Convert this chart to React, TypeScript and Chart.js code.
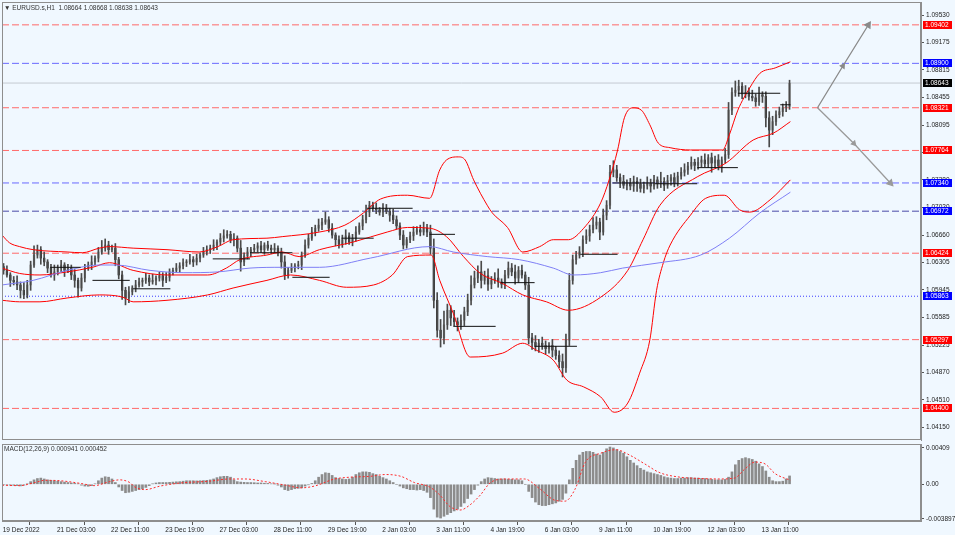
import { useEffect, useRef } from 'react';
import { Chart, registerables } from 'chart.js';

Chart.register(...registerables);

const PIP = 0.0001;
const FONT = { family: '"Liberation Sans", Arial, sans-serif', size: 6.5 };

// EURUSD 2-hour candles, x is the H1 bar index (bar 0 = first bar on 19 Dec 2022)
const firstOpen = 1.0625;
const closes = [
  1.0620, 1.0614, 1.0607, 1.0605, 1.0601, 1.0594, 1.0588, 1.0601, 1.0627, 1.0640,
  1.0647, 1.0636, 1.0631, 1.0623, 1.0614, 1.0618, 1.0623, 1.0627, 1.0620, 1.0623,
  1.0614, 1.0607, 1.0597, 1.0610, 1.0623, 1.0627, 1.0631, 1.0636, 1.0644, 1.0649,
  1.0653, 1.0647, 1.0649, 1.0634, 1.0614, 1.0594, 1.0584, 1.0592, 1.0597, 1.0601,
  1.0605, 1.0607, 1.0610, 1.0605, 1.0607, 1.0610, 1.0613, 1.0607, 1.0611, 1.0618,
  1.0620, 1.0623, 1.0626, 1.0630, 1.0631, 1.0634, 1.0631, 1.0636, 1.0640, 1.0644,
  1.0647, 1.0649, 1.0653, 1.0657, 1.0662, 1.0665, 1.0667, 1.0660, 1.0662, 1.0649,
  1.0631, 1.0639, 1.0644, 1.0647, 1.0649, 1.0652, 1.0647, 1.0653, 1.0649, 1.0647,
  1.0649, 1.0644, 1.0631, 1.0614, 1.0620, 1.0623, 1.0626, 1.0627, 1.0640, 1.0653,
  1.0662, 1.0670, 1.0675, 1.0679, 1.0683, 1.0686, 1.0675, 1.0666, 1.0660, 1.0654,
  1.0660, 1.0665, 1.0657, 1.0662, 1.0670, 1.0678, 1.0686, 1.0696, 1.0705, 1.0701,
  1.0699, 1.0696, 1.0701, 1.0697, 1.0692, 1.0686, 1.0678, 1.0666, 1.0653, 1.0660,
  1.0665, 1.0670, 1.0673, 1.0670, 1.0675, 1.0670, 1.0649, 1.0581, 1.0542, 1.0532,
  1.0549, 1.0568, 1.0558, 1.0553, 1.0549, 1.0555, 1.0566, 1.0581, 1.0601, 1.0610,
  1.0618, 1.0607, 1.0613, 1.0602, 1.0607, 1.0610, 1.0605, 1.0602, 1.0614, 1.0623,
  1.0618, 1.0610, 1.0620, 1.0614, 1.0601, 1.0532, 1.0526, 1.0521, 1.0525, 1.0522,
  1.0518, 1.0522, 1.0516, 1.0509, 1.0501, 1.0493, 1.0529, 1.0607, 1.0634, 1.0640,
  1.0644, 1.0660, 1.0665, 1.0673, 1.0679, 1.0683, 1.0670, 1.0692, 1.0705, 1.0748,
  1.0751, 1.0741, 1.0736, 1.0731, 1.0734, 1.0730, 1.0736, 1.0733, 1.0727, 1.0731,
  1.0734, 1.0730, 1.0738, 1.0733, 1.0736, 1.0731, 1.0737, 1.0741, 1.0734, 1.0743,
  1.0748, 1.0751, 1.0756, 1.0761, 1.0757, 1.0761, 1.0764, 1.0759, 1.0767, 1.0760,
  1.0764, 1.0756, 1.0764, 1.0771, 1.0829, 1.0852, 1.0855, 1.0860, 1.0850, 1.0852,
  1.0847, 1.0845, 1.0840, 1.0849, 1.0847, 1.0819, 1.0803, 1.0814, 1.0823, 1.0827,
  1.0832, 1.0834, 1.0864,
];
// wick lengths in pips above / below the body
const wickUp = [
  4, 6, 3, 5, 8, 4, 10, 6, 5, 12, 6, 4, 8, 3, 5, 9, 4, 6, 3, 5,
  4, 7, 3, 6, 5, 4, 8, 3, 6, 10, 8, 5, 4, 6, 3, 5, 4, 7, 3, 6,
  5, 3, 6, 4, 8, 3, 5, 4, 6, 4, 3, 6, 4, 5, 3, 7, 4, 5, 3, 6,
  5, 4, 7, 3, 6, 8, 5, 4, 6, 3, 10, 4, 6, 3, 5, 4, 6, 3, 5, 4,
  6, 3, 5, 8, 4, 6, 3, 5, 4, 7, 5, 6, 4, 8, 5, 10, 4, 6, 3, 5,
  6, 8, 4, 5, 7, 4, 6, 9, 5, 4, 7, 3, 6, 5, 4, 8, 5, 4, 6, 3,
  5, 7, 4, 6, 8, 5, 9, 12, 10, 14, 18, 8, 6, 10, 5, 7, 6, 8, 12, 9,
  8, 14, 6, 9, 5, 7, 12, 4, 6, 8, 6, 9, 5, 7, 4, 10, 6, 9, 5, 8,
  6, 4, 8, 5, 6, 10, 8, 9, 6, 5, 7, 5, 8, 6, 10, 7, 5, 8, 6, 9,
  12, 6, 5, 8, 4, 6, 7, 5, 6, 4, 8, 5, 6, 4, 12, 5, 7, 4, 6, 5,
  6, 8, 5, 7, 4, 6, 5, 8, 4, 6, 5, 7, 4, 8, 10, 6, 12, 8, 5, 9,
  6, 8, 5, 10, 4, 6, 8, 7, 5, 6, 5, 6, 4,
];
const wickDown = [
  5, 3, 8, 4, 6, 10, 5, 4, 7, 3, 4, 8, 5, 6, 3, 7, 4, 5, 8, 3,
  6, 9, 12, 4, 5, 3, 6, 4, 5, 3, 4, 6, 3, 8, 5, 12, 9, 6, 4, 5,
  3, 6, 4, 5, 3, 6, 4, 8, 3, 5, 4, 3, 6, 4, 5, 3, 6, 4, 5, 3,
  4, 5, 3, 6, 4, 5, 3, 4, 8, 5, 12, 5, 4, 6, 3, 5, 4, 6, 3, 5,
  4, 5, 8, 6, 4, 3, 5, 4, 6, 3, 4, 3, 5, 4, 6, 3, 5, 4, 8, 5,
  4, 6, 3, 5, 4, 3, 5, 4, 6, 4, 5, 4, 6, 3, 8, 5, 4, 6, 5, 4,
  4, 6, 3, 5, 4, 6, 8, 10, 9, 12, 8, 6, 10, 5, 8, 6, 7, 5, 6, 4,
  6, 10, 5, 8, 6, 4, 7, 5, 6, 4, 5, 8, 6, 4, 6, 8, 9, 6, 8, 5,
  7, 6, 9, 5, 8, 12, 6, 7, 5, 6, 4, 6, 5, 7, 4, 5, 10, 4, 6, 5,
  6, 5, 8, 4, 6, 5, 7, 10, 5, 6, 5, 8, 4, 6, 5, 7, 4, 6, 5, 4,
  4, 5, 6, 4, 7, 5, 6, 4, 5, 12, 6, 5, 8, 4, 5, 6, 5, 8, 6, 5,
  5, 4, 6, 5, 8, 12, 22, 6, 5, 4, 6, 5, 4,
];

// Bollinger bands and moving average, [bar index, price]
const bbUpper = [
  [-0.4, 1.0666], [4, 1.0656], [10, 1.0651], [18, 1.0647], [38, 1.0644], [47, 1.0643],
  [57, 1.0649], [63, 1.0651], [77, 1.0649], [97, 1.0647], [116, 1.0644], [127, 1.0651],
  [136, 1.066], [156, 1.0662], [165, 1.0664], [187, 1.067], [202, 1.0679], [213, 1.0695],
  [223, 1.0713], [239, 1.0718], [252, 1.0714], [258, 1.0751], [262, 1.0764], [269, 1.0768],
  [273, 1.0764], [278, 1.0738], [286, 1.0705], [289, 1.0695], [298, 1.0676], [307, 1.0644],
  [317, 1.0651], [325, 1.066], [334, 1.066], [343, 1.0675], [353, 1.0708], [358, 1.0738],
  [363, 1.0777], [367, 1.0819], [372, 1.0832], [377, 1.0829], [382, 1.081], [387, 1.0786],
  [394, 1.078], [406, 1.0777], [425, 1.0777], [429, 1.0797], [434, 1.0829], [441, 1.0858],
  [447, 1.0877], [456, 1.0884], [465, 1.0892],
];
const bbMiddle = [
  [-0.4, 1.0623], [10, 1.0616], [22, 1.0614], [38, 1.0618], [53, 1.0624], [63, 1.063],
  [77, 1.062], [97, 1.0614], [121, 1.0614], [132, 1.0623], [140, 1.0634], [156, 1.064],
  [165, 1.0644], [175, 1.0638], [187, 1.0647], [207, 1.0657], [227, 1.067], [239, 1.0676],
  [252, 1.0675], [262, 1.0664], [272, 1.0638], [282, 1.0616], [295, 1.0603], [307, 1.0588],
  [321, 1.0579], [334, 1.0568], [353, 1.0585], [369, 1.062], [378, 1.066], [388, 1.0705],
  [410, 1.0742], [427, 1.076], [443, 1.079], [455, 1.0799], [465, 1.0814],
];
const bbLower = [
  [-0.4, 1.0581], [10, 1.0579], [22, 1.0579], [38, 1.0584], [57, 1.0588], [71, 1.0585],
  [77, 1.0579], [97, 1.0581], [121, 1.0588], [136, 1.0597], [156, 1.0607], [170, 1.0614],
  [187, 1.0607], [203, 1.0598], [219, 1.0601], [230, 1.0614], [239, 1.0638], [253, 1.064],
  [258, 1.0607], [266, 1.0564], [276, 1.0507], [295, 1.0512], [307, 1.0525], [315, 1.0516],
  [325, 1.0503], [333, 1.0477], [343, 1.0468], [353, 1.0455], [361, 1.0435], [369, 1.0447],
  [376, 1.0486], [382, 1.0529], [386, 1.0594], [390, 1.063], [394, 1.0653], [406, 1.0692],
  [415, 1.0714], [426, 1.0718], [435, 1.0699], [441, 1.0696], [453, 1.0712], [465, 1.0738],
];
const maLine = [
  [-0.4, 1.0601], [18, 1.0607], [38, 1.062], [57, 1.0627], [67, 1.0627], [87, 1.062],
  [107, 1.0617], [127, 1.0618], [146, 1.0623], [165, 1.0624], [187, 1.0624], [217, 1.0636],
  [252, 1.0651], [266, 1.0644], [286, 1.0638], [305, 1.0634], [325, 1.0623], [337, 1.0614],
  [353, 1.0617], [366, 1.0623], [388, 1.063], [412, 1.064], [429, 1.0662], [447, 1.0695],
  [465, 1.0722],
];

// short black close marks, [from bar, to bar, price]
const closeMarks = [
  [28, 46, 1.0624], [53, 75, 1.0607], [77, 99, 1.0596], [124, 146, 1.0635], [146, 171, 1.0643],
  [171, 193, 1.0611], [200, 219, 1.0662], [215, 242, 1.0701], [252, 267, 1.0667],
  [266, 291, 1.0547], [294, 314, 1.0604], [314, 339, 1.0521], [341, 363, 1.0641],
  [360, 385, 1.0734], [385, 410, 1.0733], [410, 434, 1.0754], [434, 459, 1.0851],
  [459, 465, 1.0836],
];

// horizontal levels
const levelPrices = [1.09402, 1.089, 1.08643, 1.08321, 1.07764, 1.0734, 1.06972, 1.06424, 1.05863, 1.05297, 1.044];
const levelKinds = ['red', 'blue', 'last', 'red', 'red', 'blue', 'deep', 'red', 'dotted', 'red', 'red'];

// projection arrows, [bar index, price]
const arrowUp = [[481, 1.08321], [496, 1.08865], [511, 1.094]];
const arrowDown = [[481, 1.08321], [502.5, 1.07855], [524, 1.0734]];

const priceTicks = [
  1.0953, 1.09175, 1.08815, 1.08455, 1.08095, 1.07735, 1.0738, 1.0702,
  1.0666, 1.06305, 1.05945, 1.05585, 1.05225, 1.0487, 1.0451, 1.0415,
];

// MACD(12,26,9) histogram per 2-hour candle, and signal line [bar index, value]
const macdHist = [
  -0.00005, -0.00008, -0.0001, -0.00012, -0.00015, -0.00018, -0.0001, 0.00005, 0.0003, 0.0005,
  0.00065, 0.0007, 0.0006, 0.0005, 0.00045, 0.0004, 0.00035, 0.0003, 0.00025, 0.0002,
  0.00015, 0.0001, 0.00005, -0.0001, -0.0002, -0.00022, -0.00015, 0.00005, 0.0004, 0.0007,
  0.00085, 0.0008, 0.0006, 0.0002, -0.0003, -0.0007, -0.00095, -0.0009, -0.0008, -0.0007,
  -0.0006, -0.0005, -0.00035, -0.00015, 0.00005, 0.00015, 0.0002, 0.0002, 0.0002, 0.00022,
  0.00025, 0.00028, 0.0003, 0.00035, 0.0004, 0.0004, 0.0004, 0.00038, 0.0004, 0.00042,
  0.00045, 0.0005, 0.0006, 0.00075, 0.00085, 0.0009, 0.0009, 0.0008, 0.0005, 0.0003,
  0.00025, 0.00022, 0.0002, 0.0002, 0.00018, 0.00015, 0.00015, 0.00012, 0.0001, 0.00005,
  0.00003, -0.0001, -0.0003, -0.0006, -0.0007, -0.0006, -0.0005, -0.00045, -0.0004, -0.0002,
  -0.00005, 0.0001, 0.0004, 0.0008, 0.0011, 0.0013, 0.00125, 0.001, 0.00075, 0.00065,
  0.0006, 0.00055, 0.0006, 0.0008, 0.0011, 0.0013, 0.0014, 0.0014, 0.00135, 0.0012,
  0.0011, 0.0009, 0.00075, 0.0006, 0.0004, 0.0002, 0, -0.0002, -0.0004, -0.0005,
  -0.0006, -0.0006, -0.00065, -0.0006, -0.0007, -0.0009, -0.0015, -0.0028, -0.0037, -0.0038,
  -0.0036, -0.0034, -0.0032, -0.003, -0.0028, -0.0025, -0.0021, -0.0016, -0.0011, -0.0006,
  -0.0001, 0.0003, 0.0006, 0.00075, 0.0007, 0.00065, 0.0006, 0.0006, 0.0006, 0.00055,
  0.00055, 0.0005, 0.0005, 0.0004, 0, -0.0008, -0.0015, -0.002, -0.0023, -0.0024,
  -0.0024, -0.0023, -0.0022, -0.0021, -0.0019, -0.0017, -0.001, 0.0005, 0.0018, 0.0027,
  0.0033, 0.0036, 0.0037, 0.0037, 0.0036, 0.0034, 0.0033, 0.0036, 0.004, 0.0042,
  0.0041, 0.0039, 0.0037, 0.0035, 0.0031, 0.0027, 0.0024, 0.0021, 0.0018, 0.0016,
  0.0014, 0.0013, 0.0012, 0.0011, 0.001, 0.00085, 0.00075, 0.0007, 0.00065, 0.00065,
  0.0007, 0.0007, 0.00075, 0.00075, 0.0007, 0.0007, 0.00065, 0.00065, 0.0006, 0.00055,
  0.0005, 0.0005, 0.0005, 0.00055, 0.0008, 0.0014, 0.0022, 0.0027, 0.0029, 0.003,
  0.0029, 0.0028, 0.0026, 0.0023, 0.002, 0.0015, 0.0008, 0.0004, 0.0003, 0.0003,
  0.00035, 0.0006, 0.000941,
];
const macdSignal = [
  [-0.4, -0.0001], [10, -0.00015], [19, 0.0002], [25, 0.00045], [34, 0.0004], [46, 0.0001],
  [54, -0.00015], [63, 0.0003], [69, 0.0005], [75, 0.0002], [78, -0.0003], [84, -0.0006],
  [93, -0.0002], [105, 0.00015], [122, 0.00035], [134, 0.0006], [143, 0.0006], [155, 0.0003],
  [167, -0.0001], [176, -0.0004], [184, -0.0002], [196, 0.0006], [205, 0.0008], [217, 0.0009],
  [226, 0.0011], [235, 0.0009], [243, 0.0002], [252, -0.0003], [258, -0.0012], [264, -0.0025],
  [270, -0.0029], [276, -0.0023], [282, -0.0012], [288, 0.0002], [297, 0.0006], [308, 0.0006],
  [317, -0.0005], [326, -0.0018], [332, -0.0019], [338, -0.0005], [344, 0.0025], [353, 0.0035],
  [362, 0.0039], [370, 0.0033], [379, 0.0023], [388, 0.0013], [400, 0.0008], [412, 0.00065],
  [423, 0.0006], [432, 0.0007], [438, 0.0017], [444, 0.0025], [450, 0.0023], [456, 0.0012],
  [465, 0.000452],
];
const macdTicks = [0.00409, 0, -0.003897];
const macdTickLabels = ['0.00409', '0.00', '-0.003897'];

const timeLabels = [
  '19 Dec 2022', '21 Dec 03:00', '22 Dec 11:00', '23 Dec 19:00', '27 Dec 03:00',
  '28 Dec 11:00', '29 Dec 19:00', '2 Jan 03:00', '3 Jan 11:00', '4 Jan 19:00',
  '6 Jan 03:00', '9 Jan 11:00', '10 Jan 19:00', '12 Jan 03:00', '13 Jan 11:00',
];
const barsPerLabel = 32;

const X_MIN = -0.41;
const X_MAX = 542.1;
const BG = '#f0f8ff';

const levelStyle: Record<string, { line: string; dash: number[]; tag: string }> = {
  red: { line: '#ff6a6a', dash: [7, 3], tag: '#ff0000' },
  blue: { line: '#6a6aff', dash: [7, 3], tag: '#0000ff' },
  deep: { line: '#4a4aa8', dash: [7, 3], tag: '#0000ff' },
  dotted: { line: '#3c3cff', dash: [1, 2], tag: '#0000ff' },
  last: { line: '#c4cad2', dash: [], tag: '#000000' },
};

const toPoints = (pts: number[][]) => pts.map(([x, y]) => ({ x, y }));

const lineSet = (pts: number[][], color: string, extra: any = {}) => ({
  type: 'line',
  data: toPoints(pts),
  borderColor: color,
  borderWidth: 1,
  pointRadius: 0,
  fill: false,
  ...extra,
});

// keep the plot areas flush with the canvas edges (no label overhang padding)
const noOverhang = (s: any) => {
  s.paddingTop = 0;
  s.paddingBottom = 0;
  s.paddingLeft = 0;
  s.paddingRight = 0;
};

// outline of each plot area
const frame = {
  id: 'frame',
  afterDraw(chart: any) {
    const { ctx, chartArea: a } = chart;
    ctx.save();
    ctx.strokeStyle = '#8e8e8e';
    ctx.lineWidth = 1;
    ctx.strokeRect(Math.round(a.left) + 0.5, Math.round(a.top) + 0.5, a.width - 1, a.height - 1);
    ctx.restore();
  },
};

// coloured price tags on the right axis
const levelTags = {
  id: 'levelTags',
  afterDraw(chart: any) {
    const { ctx, chartArea, scales } = chart;
    ctx.save();
    ctx.font = `${FONT.size}px ${FONT.family}`;
    ctx.textBaseline = 'middle';
    levelPrices.forEach((p, n) => {
      const y = Math.round(scales.y.getPixelForValue(p));
      ctx.fillStyle = levelStyle[levelKinds[n]].tag;
      ctx.fillRect(chartArea.right + 2, y - 4, 29, 8);
      ctx.fillStyle = '#ffffff';
      ctx.fillText(p.toFixed(5), chartArea.right + 4, y + 0.5);
    });
    ctx.restore();
  },
};

function PriceChart() {
  const ref = useRef<HTMLCanvasElement>(null);

  useEffect(() => {
    if (!ref.current) return;
    const opens = closes.map((c, k) => (k === 0 ? firstOpen : closes[k - 1]));
    const candleX = closes.map((_, k) => 2 * k + 0.5);
    const highs = closes.map((c, k) => Math.max(opens[k], c) + wickUp[k] * PIP);
    const lows = closes.map((c, k) => Math.min(opens[k], c) - wickDown[k] * PIP);

    const levels = levelPrices.map((p, n) => {
      const s = levelStyle[levelKinds[n]];
      return lineSet([[X_MIN, p], [X_MAX, p]], s.line, { borderDash: s.dash, order: 10 });
    });
    const marks = closeMarks.map(([a, b, p]) => lineSet([[a, p], [b, p]], '#111111', { order: 2 }));

    const arrow = (pts: number[][], color: string, angle: number) =>
      lineSet(pts, color, {
        borderWidth: 1.3,
        pointStyle: 'triangle',
        pointRadius: [0, 2.5, 3.5],
        pointRotation: angle,
        pointBackgroundColor: color,
        pointBorderColor: color,
        order: 1,
      });

    const chart = new Chart(ref.current, {
      type: 'bar',
      data: {
        datasets: [
          ...levels,
          {
            type: 'bar',
            data: closes.map((_, k) => ({ x: candleX[k], y: [lows[k], highs[k]] })),
            backgroundColor: '#4a4a4a',
            barThickness: 1,
            grouped: false,
            order: 4,
          },
          {
            type: 'bar',
            data: closes.map((c, k) => ({ x: candleX[k], y: [Math.min(opens[k], c), Math.max(opens[k], c)] })),
            backgroundColor: closes.map((c, k) => (c >= opens[k] ? '#8e8e8e' : '#262626')),
            barThickness: 1.6,
            minBarLength: 1,
            grouped: false,
            order: 4,
          },
          lineSet(maLine, '#7f7ff5', { cubicInterpolationMode: 'monotone', order: 3 }),
          lineSet(bbUpper, '#ff0000', { cubicInterpolationMode: 'monotone', order: 3 }),
          lineSet(bbMiddle, '#ff0000', { cubicInterpolationMode: 'monotone', order: 3 }),
          lineSet(bbLower, '#ff0000', { cubicInterpolationMode: 'monotone', order: 3 }),
          ...marks,
          arrow(arrowUp, '#8a8a8a', 33),
          arrow(arrowDown, '#9a9a9a', 137),
        ] as any,
      },
      options: {
        responsive: false,
        animation: false,
        events: [],
        layout: { autoPadding: false, padding: { left: 2, top: 2, right: 0, bottom: 2 } },
        plugins: { legend: { display: false }, tooltip: { enabled: false } },
        scales: {
          x: { type: 'linear', min: X_MIN, max: X_MAX, offset: false, display: false },
          y: {
            position: 'right',
            min: 1.03988,
            max: 1.097,
            afterFit: (s: any) => { s.width = 34; noOverhang(s); },
            afterBuildTicks: (s: any) => { s.ticks = priceTicks.map((v) => ({ value: v })); },
            ticks: {
              autoSkip: false,
              padding: 2,
              color: '#222',
              font: FONT,
              callback: (v: any) => Number(v).toFixed(5),
            },
            grid: { drawOnChartArea: false, tickLength: 3, color: '#555' },
            border: { color: '#8e8e8e' },
          },
        },
      },
      plugins: [frame, levelTags],
    });
    return () => chart.destroy();
  }, []);

  return <canvas ref={ref} width={955} height={442} style={{ display: 'block' }} />;
}

function MacdChart() {
  const ref = useRef<HTMLCanvasElement>(null);

  useEffect(() => {
    if (!ref.current) return;
    const chart = new Chart(ref.current, {
      type: 'bar',
      data: {
        datasets: [
          {
            type: 'bar',
            data: macdHist.map((v, k) => ({ x: 2 * k + 0.5, y: v })),
            backgroundColor: '#8c8c8c',
            barThickness: 2,
            grouped: false,
            order: 2,
          },
          lineSet(macdSignal, '#ff2a2a', { borderDash: [2, 2], cubicInterpolationMode: 'monotone', order: 1 }),
        ] as any,
      },
      options: {
        responsive: false,
        animation: false,
        events: [],
        layout: { autoPadding: false, padding: { left: 2, top: 2, right: 0, bottom: 0 } },
        plugins: { legend: { display: false }, tooltip: { enabled: false } },
        scales: {
          x: {
            type: 'linear',
            min: X_MIN,
            max: X_MAX,
            offset: false,
            afterFit: (s: any) => { s.height = 14; noOverhang(s); },
            afterBuildTicks: (s: any) => { s.ticks = timeLabels.map((_, n) => ({ value: n * barsPerLabel })); },
            ticks: {
              autoSkip: false,
              maxRotation: 0,
              align: 'start',
              padding: 1,
              color: '#222',
              font: FONT,
              callback: (_v: any, i: number) => timeLabels[i],
            },
            grid: { drawOnChartArea: false, tickLength: 4, color: '#555' },
            border: { color: '#8e8e8e' },
          },
          y: {
            position: 'right',
            min: -0.004135,
            max: 0.00454,
            afterFit: (s: any) => { s.width = 34; noOverhang(s); },
            afterBuildTicks: (s: any) => { s.ticks = macdTicks.map((v) => ({ value: v })); },
            ticks: {
              autoSkip: false,
              padding: 2,
              color: '#222',
              font: FONT,
              callback: (_v: any, i: number) => macdTickLabels[i],
            },
            grid: { drawOnChartArea: false, tickLength: 3, color: '#555' },
            border: { color: '#8e8e8e' },
          },
        },
      },
      plugins: [frame],
    });
    return () => chart.destroy();
  }, []);

  return <canvas ref={ref} width={955} height={93} style={{ display: 'block' }} />;
}

export default function App() {
  const label = {
    position: 'absolute' as const,
    fontFamily: FONT.family,
    fontSize: FONT.size,
    color: '#333',
    whiteSpace: 'pre' as const,
    lineHeight: 1,
  };
  return (
    <div style={{ position: 'fixed', left: 0, top: 0, width: 955, height: 535, background: BG, overflow: 'hidden' }}>
      <div style={{ position: 'absolute', left: 0, top: 0 }}>
        <PriceChart />
      </div>
      <div style={{ position: 'absolute', left: 0, top: 442 }}>
        <MacdChart />
      </div>
      <div style={{ ...label, left: 4, top: 5 }}>▼ EURUSD.s,H1  1.08664 1.08668 1.08638 1.08643</div>
      <div style={{ ...label, left: 4, top: 446 }}>MACD(12,26,9) 0.000941 0.000452</div>
    </div>
  );
}
